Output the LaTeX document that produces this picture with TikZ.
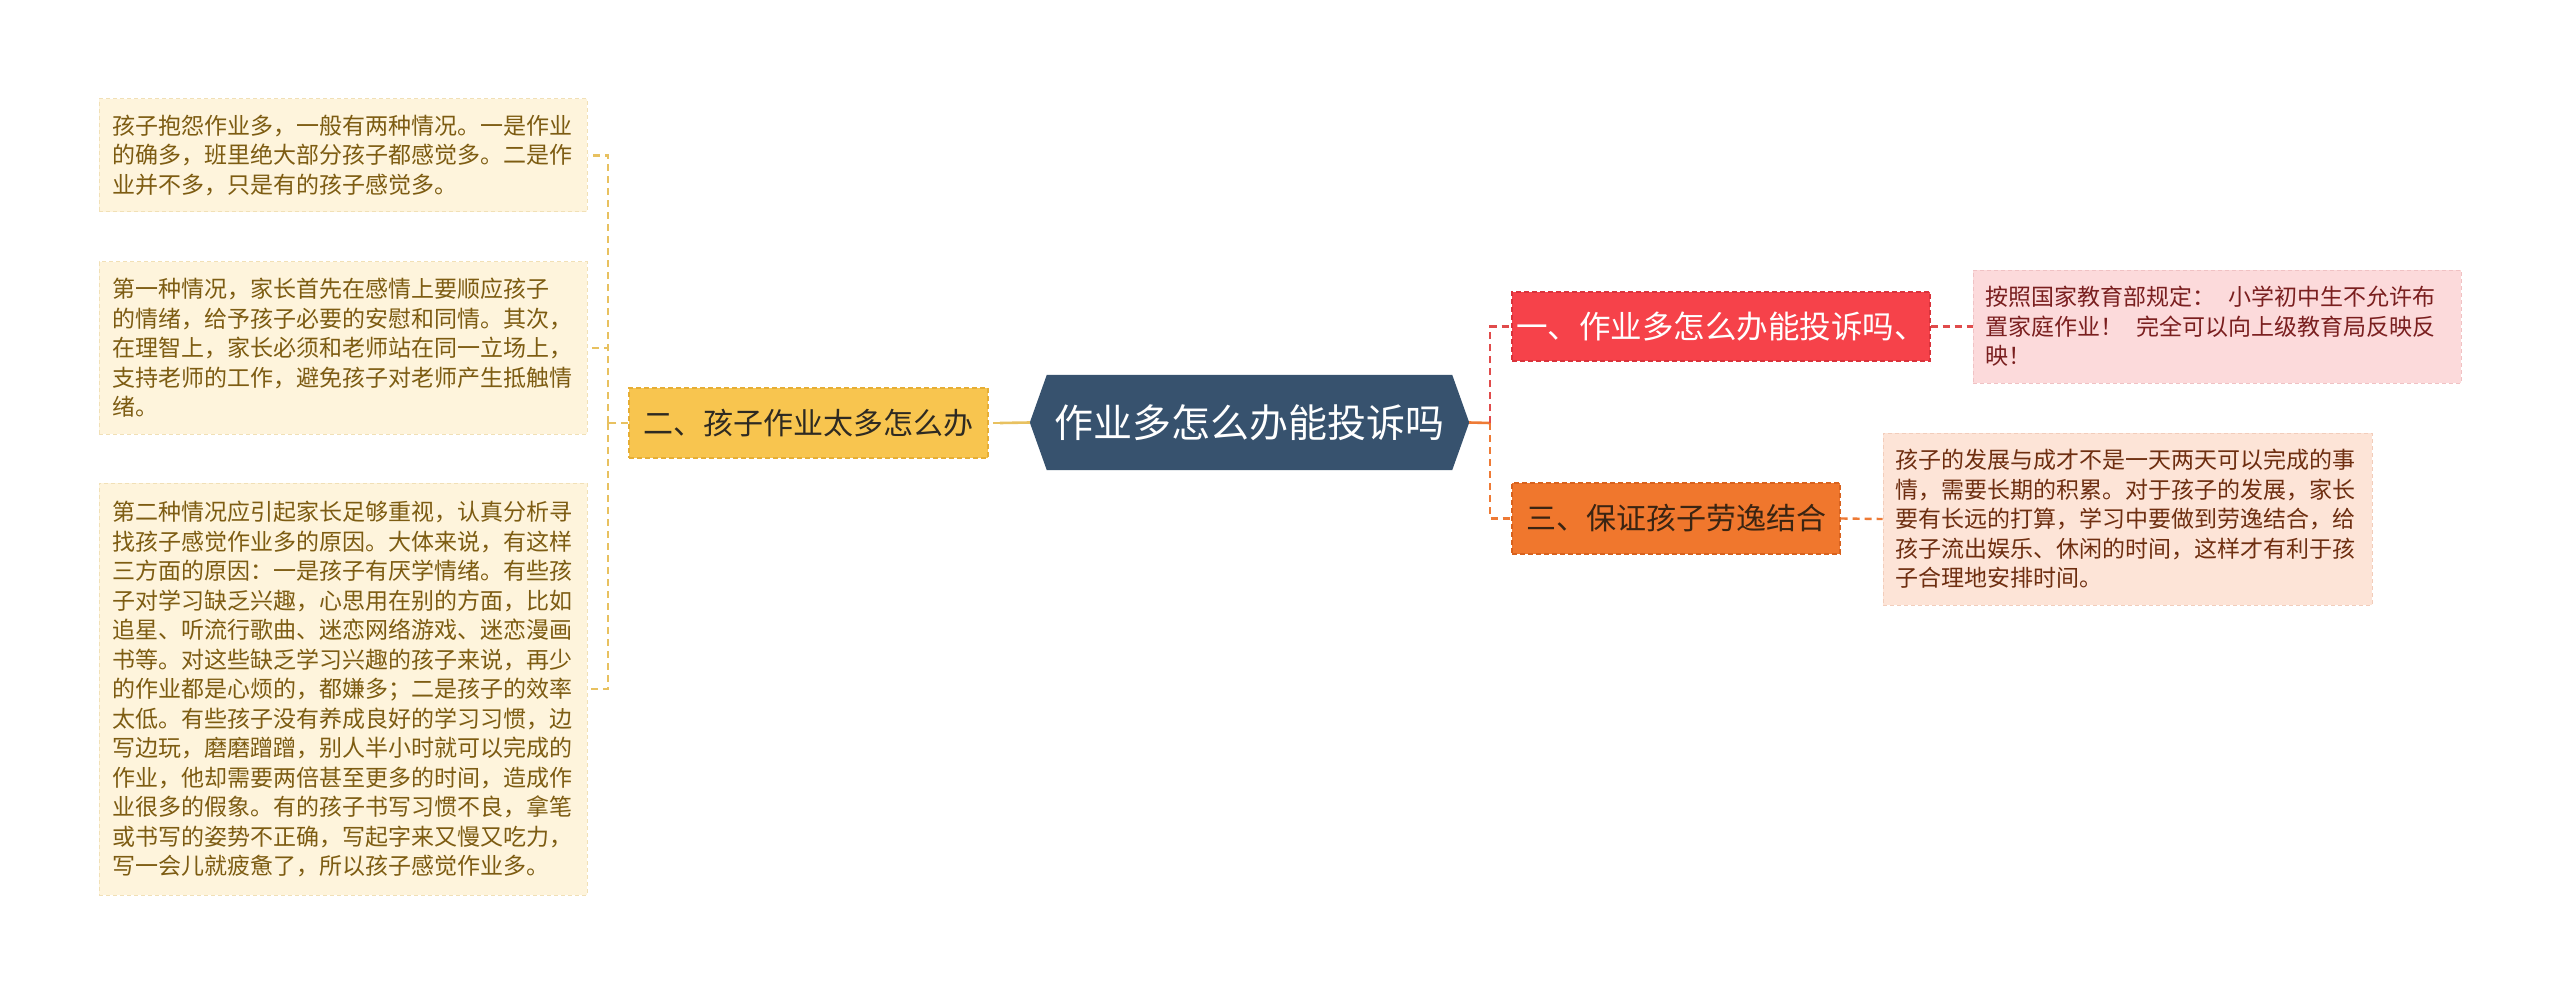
\documentclass[tikz,border=0pt]{standalone}
\usepackage{fontspec}
\setmainfont{Noto Sans CJK SC}
\usetikzlibrary{backgrounds}
\definecolor{leafLfill}{HTML}{FEF4DC}
\definecolor{leafLdraw}{HTML}{F1E0B6}
\definecolor{leafLtext}{HTML}{7D5C12}
\definecolor{btwofill}{HTML}{F8C54F}
\definecolor{btwodraw}{HTML}{E6AE35}
\definecolor{btwotext}{HTML}{2E2A22}
\definecolor{connY}{HTML}{E8C160}
\definecolor{centerfill}{HTML}{37526E}
\definecolor{bonefill}{HTML}{F6424A}
\definecolor{bonedraw}{HTML}{D9333B}
\definecolor{connR}{HTML}{E04B4B}
\definecolor{ronefill}{HTML}{FCDADB}
\definecolor{ronedraw}{HTML}{F0C2C4}
\definecolor{ronetext}{HTML}{7A1F1F}
\definecolor{bthreefill}{HTML}{F0772D}
\definecolor{bthreedraw}{HTML}{D8621E}
\definecolor{bthreetext}{HTML}{3A2412}
\definecolor{connO}{HTML}{EE7A35}
\definecolor{rtwofill}{HTML}{FDE4D7}
\definecolor{rtwodraw}{HTML}{F2CDBB}
\definecolor{rtwotext}{HTML}{6E2E10}
\tikzset{
  leafbox/.style={draw, line width=1pt, dash pattern=on 4pt off 3pt, inner sep=0pt,
    align=left, anchor=center, font=\fontsize{23}{29.5}\selectfont},
  branchbox/.style={draw, line width=1.2pt, dash pattern=on 5pt off 3pt, inner sep=0pt, anchor=center},
  conn/.style={line width=2.4pt, dash pattern=on 7pt off 5pt},
  solidconn/.style={line width=2.6pt},
}
\begin{document}
\begin{tikzpicture}[x=1pt,y=-1pt]
\useasboundingbox (0,0) rectangle (2560,995);
% left leaves
\node[leafbox, fill=leafLfill, draw=leafLdraw, text=leafLtext, text width=462pt,
  minimum width=488pt, minimum height=113pt] (l1) at (343,155.5)
  {孩子抱怨作业多，一般有两种情况。一是作业\\的确多，班里绝大部分孩子都感觉多。二是作\\业并不多，只是有的孩子感觉多。};
\node[leafbox, fill=leafLfill, draw=leafLdraw, text=leafLtext, text width=462pt,
  minimum width=488pt, minimum height=172pt] (l2) at (343,348)
  {第一种情况，家长首先在感情上要顺应孩子\\的情绪，给予孩子必要的安慰和同情。其次，\\在理智上，家长必须和老师站在同一立场上，\\支持老师的工作，避免孩子对老师产生抵触情\\绪。};
\node[leafbox, fill=leafLfill, draw=leafLdraw, text=leafLtext, text width=462pt,
  minimum width=488pt, minimum height=412pt] (l3) at (343,689)
  {第二种情况应引起家长足够重视，认真分析寻\\找孩子感觉作业多的原因。大体来说，有这样\\三方面的原因：一是孩子有厌学情绪。有些孩\\子对学习缺乏兴趣，心思用在别的方面，比如\\追星、听流行歌曲、迷恋网络游戏、迷恋漫画\\书等。对这些缺乏学习兴趣的孩子来说，再少\\的作业都是心烦的，都嫌多；二是孩子的效率\\太低。有些孩子没有养成良好的学习习惯，边\\写边玩，磨磨蹭蹭，别人半小时就可以完成的\\作业，他却需要两倍甚至更多的时间，造成作\\业很多的假象。有的孩子书写习惯不良，拿笔\\或书写的姿势不正确，写起字来又慢又吃力，\\写一会儿就疲惫了，所以孩子感觉作业多。};
% branch two
\node[branchbox, fill=btwofill, draw=btwodraw, text=btwotext, minimum width=359pt,
  minimum height=70pt, font=\fontsize{30}{30}\selectfont] (b2) at (808.5,423) {二、孩子作业太多怎么办};
% central
\node[inner sep=0pt, minimum width=439pt, minimum height=95pt, text=white,
  font=\fontsize{39}{39}\selectfont] (c) at (1249.5,422.5) {作业多怎么办能投诉吗};
\begin{scope}[on background layer]
  \fill[white] (0,0) rectangle (2560,995);
  \fill[centerfill] (c.west) -- ([xshift=17pt]c.north west) -- ([xshift=-17pt]c.north east)
    -- (c.east) -- ([xshift=-17pt]c.south east) -- ([xshift=17pt]c.south west) -- cycle;
\end{scope}
% branch one and three
\node[branchbox, fill=bonefill, draw=bonedraw, text=white, minimum width=418pt,
  minimum height=69pt, font=\fontsize{31.5}{31.5}\selectfont] (b1) at (1721,326.5) {一、作业多怎么办能投诉吗、};
\node[branchbox, fill=bthreefill, draw=bthreedraw, text=bthreetext, minimum width=328pt,
  minimum height=71pt, font=\fontsize{30}{30}\selectfont] (b3) at (1676,518.5) {三、保证孩子劳逸结合};
% right leaves
\node[leafbox, fill=ronefill, draw=ronedraw, text=ronetext, text width=464pt,
  minimum width=488pt, minimum height=113pt] (r1) at (2217,326.5)
  {按照国家教育部规定：\hspace{0.6em}小学初中生不允许布\\置家庭作业！\hspace{0.6em}完全可以向上级教育局反映反\\映！};
\node[leafbox, fill=rtwofill, draw=rtwodraw, text=rtwotext, text width=464pt,
  minimum width=489pt, minimum height=172pt] (r2) at (2127.5,519)
  {孩子的发展与成才不是一天两天可以完成的事\\情，需要长期的积累。对于孩子的发展，家长\\要有长远的打算，学习中要做到劳逸结合，给\\孩子流出娱乐、休闲的时间，这样才有利于孩\\子合理地安排时间。};
% connectors left
\coordinate (jl) at (608,423);
\coordinate (jm) at (1000,423);
\draw[solidconn, connY] (c.west) -- (jm);
\draw[conn, connY] (jm) -- (b2.east);
\draw[conn, connY] (b2.west) -- (jl);
\draw[conn, connY] (jl) |- (l1.east);
\draw[conn, connY] (jl) |- (l2.east);
\draw[conn, connY] (jl) |- (l3.east);
% connectors right
\coordinate (jr) at (1490,423);
\draw[solidconn, connO] (c.east) -- (jr);
\draw[conn, connR] (jr) |- (b1.west);
\draw[conn, connO] (jr) |- (b3.west);
\draw[conn, connR] (b1.east) -- (r1.west);
\draw[conn, connO] (b3.east) -- (r2.west);
\end{tikzpicture}
\end{document}
